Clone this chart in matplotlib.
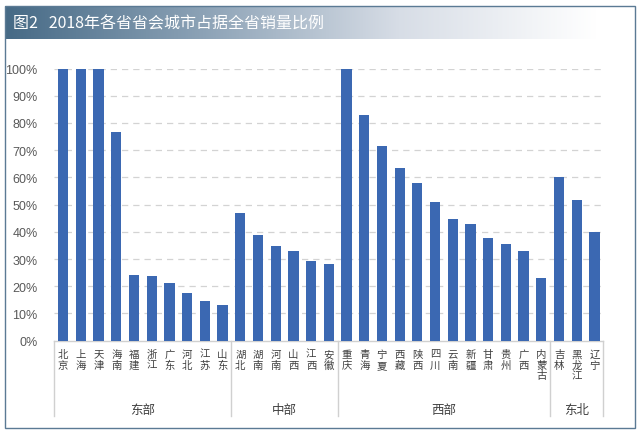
import numpy as np
import matplotlib.pyplot as plt
from matplotlib.patches import Rectangle
from matplotlib.colors import LinearSegmentedColormap

plt.rcParams['font.family'] = ['Noto Sans CJK SC', 'DejaVu Sans']

# data
provinces = ['北京', '上海', '天津', '海南', '福建', '浙江', '广东', '河北', '江苏', '山东',
             '湖北', '湖南', '河南', '山西', '江西', '安徽',
             '重庆', '青海', '宁夏', '西藏', '陕西', '四川', '云南', '新疆', '甘肃', '贵州', '广西', '内蒙古',
             '吉林', '黑龙江', '辽宁']
shares = [100, 100, 100, 76.7, 24.1, 23.7, 21.1, 17.6, 14.7, 13.0,
          46.8, 38.7, 34.8, 33.0, 29.4, 28.0,
          100, 83.1, 71.7, 63.4, 57.8, 51.0, 44.8, 42.7, 37.6, 35.5, 32.9, 22.9,
          60.1, 51.8, 40.0]
regions = ['东部', '中部', '西部', '东北']
region_sizes = [10, 6, 12, 3]
title = '图2   2018年各省省会城市占据全省销量比例'

W, H = 640, 435
fig = plt.figure(figsize=(W / 100, H / 100), dpi=100)

# header band with gradient
hax = fig.add_axes([5 / W, 1 - 40 / H, 592 / W, 33 / H])
cmap = LinearSegmentedColormap.from_list('hdr', ['#466a86', '#8ca2b6', '#d7dde6', '#ffffff'])
hax.imshow(np.linspace(0, 1, 256)[None, :], aspect='auto', cmap=cmap, extent=[0, 1, 0, 1])
hax.set_axis_off()
fig.text(13 / W, 1 - 24 / H, title, color='white', fontsize=11.5, va='center', ha='left')

# frame
fig.patches.append(Rectangle((5 / W, 1 - 429 / H), 630 / W, 422 / H, transform=fig.transFigure,
                             fill=False, edgecolor='#5b7a94', linewidth=1.0))

ax = fig.add_axes([54.3 / W, 1 - 341.7 / H, 549 / W, 272.2 / H])
x = np.arange(len(provinces))
ax.bar(x, np.array(shares) / 100, width=0.58, color='#3b68b2', zorder=3)
ax.set_xlim(-0.5, len(provinces) - 0.5)
ax.set_ylim(0, 1.0)
ax.set_yticks(np.arange(0, 1.01, 0.1))
ax.set_yticklabels([f'{v}%' for v in range(0, 101, 10)], family='Liberation Sans',
                   fontsize=9, color='#595959')
ax.tick_params(axis='y', length=0, pad=12)
ax.set_xticks([])
for s in ['top', 'right', 'left']:
    ax.spines[s].set_visible(False)
ax.spines['bottom'].set_color('#d0d0d0')
ax.spines['bottom'].set_linewidth(1)
for v in np.arange(0.1, 1.01, 0.1):
    ax.axhline(v, color='#d3d3d3', lw=0.9, ls=(0, (5, 4)), zorder=1)

trans = ax.get_xaxis_transform()
for i, name in enumerate(provinces):
    ax.text(i, -0.03, '\n'.join(name), transform=trans, ha='center', va='top',
            fontsize=7.5, linespacing=1.1, color='#404040')

edges = np.concatenate([[0], np.cumsum(region_sizes)]) - 0.5
for e in edges:
    ax.plot([e, e], [0, -0.275], transform=trans, color='#d0d0d0', lw=1, clip_on=False)
for k, reg in enumerate(regions):
    ax.text((edges[k] + edges[k + 1]) / 2, -0.252, reg, transform=trans, ha='center',
            va='center', fontsize=9, color='#404040')

plt.savefig('out.png', dpi=100)
